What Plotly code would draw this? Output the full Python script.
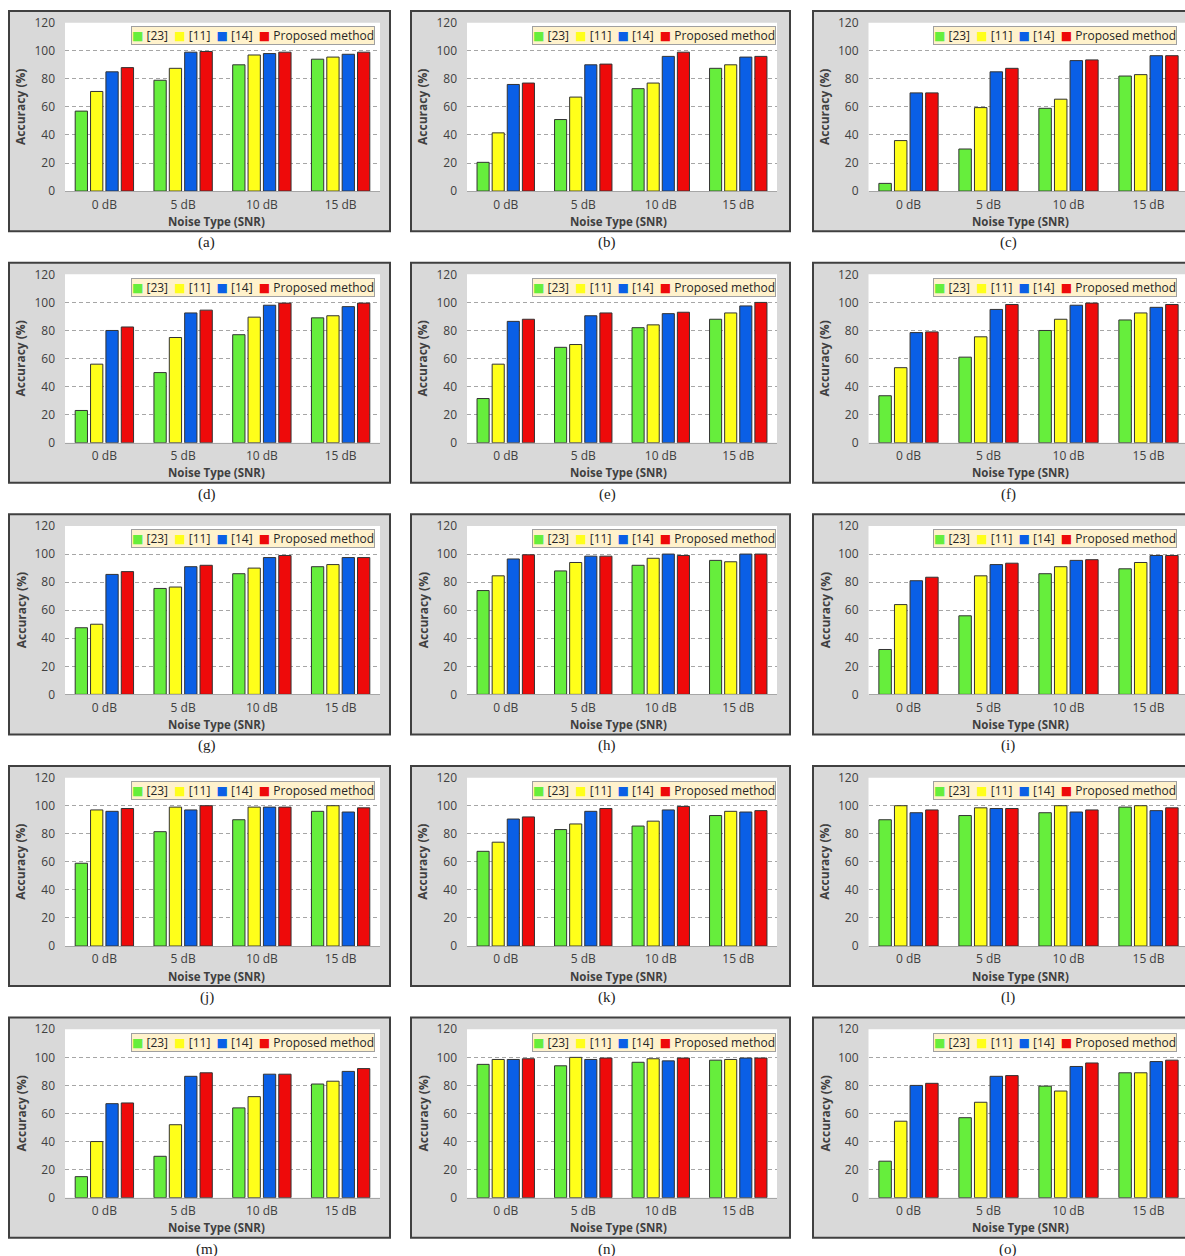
import plotly.graph_objects as go

# ---------------- data ----------------
categories = ["0 dB", "5 dB", "10 dB", "15 dB"]
series_names = ["[23]", "[11]", "[14]", "Proposed method"]
panel_labels = ["(a)", "(b)", "(c)", "(d)", "(e)", "(f)", "(g)", "(h)",
                "(i)", "(j)", "(k)", "(l)", "(m)", "(n)", "(o)"]

vals_23 = [
    [57, 79, 90, 94],      # a
    [20.5, 51, 73, 87.5],  # b
    [5.5, 30, 59, 82],     # c
    [23, 50, 77, 89],      # d
    [31.5, 68, 82, 88],    # e
    [33.5, 61, 80, 87.5],  # f
    [47.5, 75.5, 86, 91],  # g
    [74, 88, 92, 95.5],    # h
    [32, 56, 86, 89.5],    # i
    [59, 81.5, 90, 96],    # j
    [67.5, 83, 85.5, 93],  # k
    [90, 93, 95, 99],      # l
    [15, 29.5, 64, 81],    # m
    [95, 94, 96.5, 98],    # n
    [26, 57, 79.5, 89],    # o
]
vals_11 = [
    [71, 87.5, 97, 95.5],
    [41.5, 67, 77, 90],
    [36, 59.5, 65.5, 83],
    [56, 75, 89.5, 90.5],
    [56, 70, 84, 92.5],
    [53.5, 75.5, 88, 92.5],
    [50, 76.5, 90, 92.5],
    [84.5, 94, 97, 94.5],
    [64, 84.5, 91, 94],
    [97, 99, 99, 100],
    [74, 87, 89, 96],
    [100, 98.5, 100, 100],
    [40, 52, 72, 83],
    [98.5, 100, 99, 98.5],
    [54.5, 68, 76, 89],
]
vals_14 = [
    [85, 99, 98, 97.5],
    [76, 90, 96, 95.5],
    [70, 85, 93, 96.5],
    [80, 92.5, 98, 97],
    [86.5, 90.5, 92, 97.5],
    [78.5, 95, 98, 96.5],
    [85.5, 91, 97.5, 97.5],
    [96.5, 98.5, 100, 100],
    [81, 92.5, 95.5, 99],
    [96, 97, 99, 95.5],
    [90.5, 96, 97, 95.5],
    [95, 98, 95.5, 96.5],
    [67, 86.5, 88, 90],
    [98.5, 98.5, 97.5, 99.5],
    [80, 86.5, 93.5, 97],
]
vals_prop = [
    [88, 99.5, 99, 99],
    [77, 90.5, 99, 96],
    [70, 87.5, 93.5, 96.5],
    [82.5, 94.5, 99.5, 99.5],
    [88, 92.5, 93, 100],
    [79, 98.5, 99.5, 98.5],
    [87.5, 92, 99, 97.5],
    [99.5, 98.5, 99, 100],
    [83.5, 93.5, 96, 99],
    [98, 100, 99, 98.5],
    [92, 98, 99.5, 96.5],
    [97, 98, 97, 98.5],
    [67.5, 89, 88, 92],
    [99, 99.5, 99.5, 99.5],
    [81.5, 87, 96, 98],
]
series_vals = [vals_23, vals_11, vals_14, vals_prop]
y_ticks = [0, 20, 40, 60, 80, 100, 120]

# ---------------- style ----------------
colors = ["#66EE3C", "#FFFF1A", "#0A5FE6", "#EE0A0A"]
outline = "#333333"
W = 1185
H = 1266
Y_OFF, Y_SCALE = 8.0, 0.986   # page-to-picture compensation
FONT = "Open Sans"
TXT = "#404040"

col_box = [(9, 390), (411, 790), (813, 1195)]
col_plot = [(65, 380), (467, 777), (868.5, 1185)]
col_cw = [None, None, 80.0]
legend_right = [375, 776, 1177]
xtitle_cx = [216, 618, 1020]
ytitle_x = [21, 423, 825]
caption_cx = [207, 607, 1008]
ROW_PITCH = 251.5


def fx(p):
    return p / W


def fy(p):
    return 1 - ((p - Y_OFF) / Y_SCALE) / H


fig = go.Figure()
shapes = []
annotations = []
layout_axes = {}

legend_text = "".join(
    f'<span style="color:{colors[k]};font-size:12px;font-family:DejaVu Sans">■</span>'
    f' {series_names[k]}' + ("  " if k < 3 else "")
    for k in range(4)
)

for i in range(15):
    r, c = divmod(i, 3)
    off = r * ROW_PITCH
    sfx = "" if i == 0 else str(i + 1)
    xa, ya = "x" + sfx, "y" + sfx

    for s in range(4):
        fig.add_trace(go.Bar(
            x=categories, y=series_vals[s][i], name=series_names[s],
            marker=dict(color=colors[s], line=dict(color=outline, width=1)),
            xaxis=xa, yaxis=ya, showlegend=False,
        ))

    pl, pr = col_plot[c]
    pt, pb = 21.7 + off, 190 + off
    if col_cw[c]:
        xr = [-0.5, -0.5 + (pr - pl) / col_cw[c]]
    else:
        xr = [-0.5, 3.5]

    layout_axes["xaxis" + sfx] = dict(
        domain=[fx(pl), fx(pr)], anchor=ya, type="category", range=xr,
        showline=True, linecolor="#a6a6a6", linewidth=1, showgrid=False,
        ticks="", tickfont=dict(family=FONT, size=12, color=TXT),
        ticklabelstandoff=2, fixedrange=True,
    )
    layout_axes["yaxis" + sfx] = dict(
        domain=[fy(pb), fy(pt)], anchor=xa, range=[0, 120],
        tickvals=y_ticks, showgrid=True, gridcolor="#a6a6a6",
        griddash="4px,3px", gridwidth=1, zeroline=False, showline=False,
        ticks="", tickfont=dict(family=FONT, size=12, color=TXT),
        ticklabelstandoff=9, fixedrange=True,
    )

    bl, br = col_box[c]
    bt, bb = 10 + off, 230 + off
    shapes.append(dict(type="rect", xref="paper", yref="paper",
                       x0=fx(bl), x1=fx(br), y0=fy(bb), y1=fy(bt),
                       fillcolor="#d9d9d9", line=dict(color="#404040", width=2),
                       layer="below"))
    shapes.append(dict(type="rect", xref="paper", yref="paper",
                       x0=fx(pl), x1=fx(pr), y0=fy(pb), y1=fy(pt),
                       fillcolor="white", line=dict(width=0), layer="below"))

    # legend box
    annotations.append(dict(
        xref="paper", yref="paper", x=fx(legend_right[c]), y=fy(34.5 + off),
        xanchor="right", yanchor="middle", showarrow=False, text=legend_text,
        font=dict(family=FONT, size=12, color="#262626"),
        bgcolor="#FFF2CC", bordercolor="#a0a0a0", borderwidth=1, borderpad=0,
    ))
    # y title
    annotations.append(dict(
        xref="paper", yref="paper", x=fx(ytitle_x[c]), y=fy((pt + pb) / 2),
        xanchor="center", yanchor="middle", showarrow=False,
        text="<b>Accuracy (%)</b>", textangle=-90,
        font=dict(family=FONT, size=12, color=TXT),
    ))
    # x title
    annotations.append(dict(
        xref="paper", yref="paper", x=fx(xtitle_cx[c]), y=fy(220 + off),
        xanchor="center", yanchor="middle", showarrow=False,
        text="<b>Noise Type (SNR)</b>",
        font=dict(family=FONT, size=11.5, color=TXT),
    ))
    # caption
    annotations.append(dict(
        xref="paper", yref="paper", x=fx(caption_cx[c]), y=fy(241.5 + off),
        xanchor="center", yanchor="middle", showarrow=False,
        text=panel_labels[i],
        font=dict(family="Liberation Serif", size=15, color="#222222"),
    ))

fig.update_layout(
    width=W, height=H, margin=dict(l=0, r=0, t=0, b=0),
    paper_bgcolor="white", plot_bgcolor="white",
    barmode="group", bargap=0.22, bargroupgap=0.2,
    shapes=shapes, annotations=annotations, showlegend=False,
    **layout_axes,
)

fig.write_html(
    "out.html",
    config={"displayModeBar": False},
    post_script="document.body.style.margin='0px';document.body.style.overflow='hidden';",
)
